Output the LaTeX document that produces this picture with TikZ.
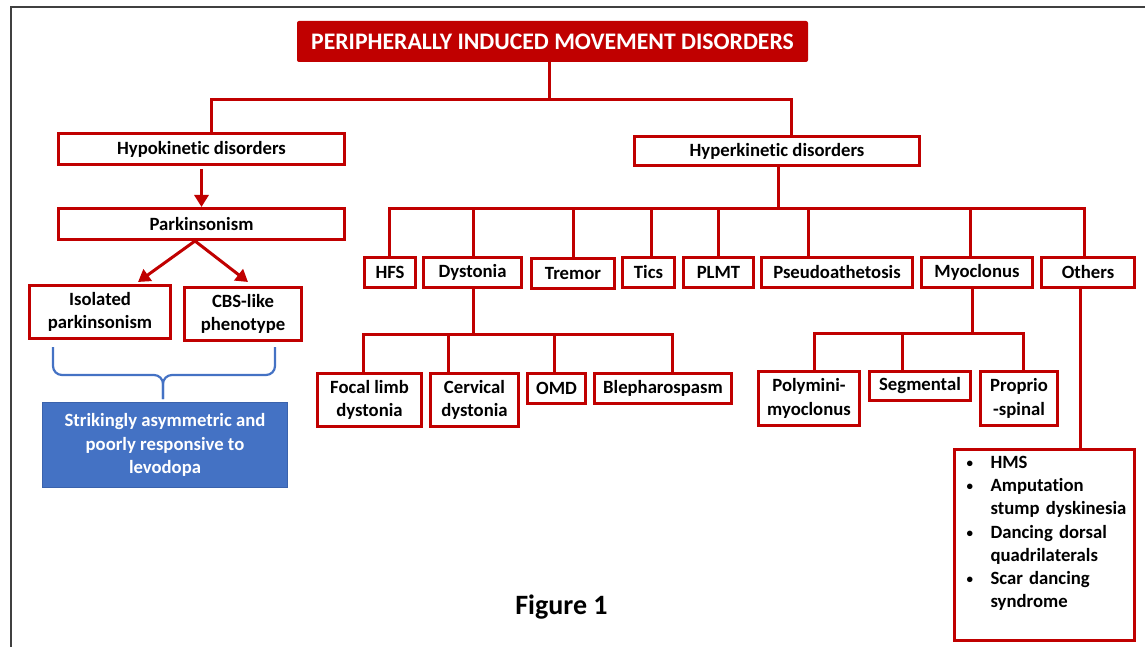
\documentclass[tikz,border=0pt]{standalone}
\usepackage{fontspec}
\setmainfont{Carlito}[Ligatures=NoCommon]
\usetikzlibrary{arrows.meta,calc}
\definecolor{dred}{HTML}{C00000}
\definecolor{mblue}{HTML}{4472C4}
\definecolor{dblue}{HTML}{3A62AC}
\definecolor{framegray}{HTML}{404040}
\tikzset{
  rbox/.style={draw=dred, line width=3pt, fill=white, inner sep=2pt, align=center,
    font=\fontsize{18.7}{23.3}\selectfont\bfseries, text=black},
  conn/.style={draw=dred, line width=3pt, line cap=rect},
  arr/.style={draw=dred, line width=3pt, -{Triangle[length=12pt,width=14pt]}},
  bracestyle/.style={draw=mblue, line width=2.2pt, rounded corners=9pt},
}
\newcommand{\dropline}[3]{%
  \path ([xshift=#2pt]#1.north) coordinate (#1-c);
  \draw[conn] (#1-c) -- (#1-c |- #3);}
\newcommand{\smbullet}{\raisebox{1pt}{\fontsize{13}{13}\selectfont\textbullet}}
\begin{document}
\begin{tikzpicture}[x=1pt,y=-1pt]
\useasboundingbox (0,0) rectangle (1145,647);
\draw[framegray, line width=2pt] (11,647) -- (11,7) -- (1145,7);

% title
\node[fill=dred, text=white, minimum width=511pt, minimum height=41pt, rounded corners=2pt,
  font=\fontsize{23.7}{27}\selectfont\bfseries] (title) at (552.5,41.5) {PERIPHERALLY INDUCED MOVEMENT DISORDERS};

% left branch
\node[rbox, minimum width=286pt, minimum height=31pt] (hypo) at (201.5,149) {Hypokinetic disorders};
\node[rbox, minimum width=286pt, minimum height=31pt] (park) at (201.5,224) {Parkinsonism};
\node[rbox, minimum width=141pt, minimum height=53pt] (iso) at (100,312) {Isolated\\parkinsonism};
\node[rbox, minimum width=117pt, minimum height=53pt] (cbs) at (243,314) {CBS-like\\phenotype};
\node[fill=mblue, draw=dblue, line width=1pt, text=white, minimum width=245pt, minimum height=85pt,
  align=center, font=\fontsize{18.7}{23.3}\selectfont\bfseries] (blue) at (165,445)
  {Strikingly asymmetric and\\poorly responsive to\\levodopa};

% right branch
\node[rbox, minimum width=285pt, minimum height=29pt] (hyper) at (777,151) {Hyperkinetic disorders};

\node[rbox, minimum width=51pt, minimum height=30pt] (hfs) at (390,272.5) {HFS};
\node[rbox, minimum width=98pt, minimum height=30pt] (dys) at (472.5,272.5) {Dystonia};
\node[rbox, minimum width=83pt, minimum height=30pt] (tremor) at (573,273.5) {Tremor};
\node[rbox, minimum width=52pt, minimum height=30pt] (tics) at (648.5,272.5) {Tics};
\node[rbox, minimum width=70pt, minimum height=30pt] (plmt) at (718.5,272.5) {PLMT};
\node[rbox, minimum width=151pt, minimum height=30pt] (pseudo) at (837,272.5) {Pseudoathetosis};
\node[rbox, minimum width=111pt, minimum height=30pt] (myo) at (977,272.5) {Myoclonus};
\node[rbox, minimum width=93pt, minimum height=30pt] (others) at (1088,272.5) {Others};

\node[rbox, minimum width=104pt, minimum height=53pt] (focal) at (369.5,400) {Focal limb\\dystonia};
\node[rbox, minimum width=88pt, minimum height=53pt] (cerv) at (474.5,400) {Cervical\\dystonia};
\node[rbox, minimum width=58pt, minimum height=30pt] (omd) at (556.5,388.5) {OMD};
\node[rbox, minimum width=137pt, minimum height=30pt] (bleph) at (663,388.5) {Blepharospasm};

\node[rbox, minimum width=101pt, minimum height=54pt] (poly) at (809,398.5) {Polymini-\\myoclonus};
\node[rbox, minimum width=101pt, minimum height=29pt] (seg) at (920,386) {Segmental};
\node[rbox, minimum width=77pt, minimum height=54pt] (prop) at (1019,398.5) {Proprio\\-spinal};

\node[rbox, minimum width=180pt, minimum height=191pt, text width=156pt, inner xsep=12pt, align=left]
  (hms) at (1044.5,545)
  {\begin{tabular}{@{}p{24pt}@{}l@{}}
   \smbullet & HMS\\
   \smbullet & Amputation\\
               & stump dyskinesia\\
   \smbullet & Dancing dorsal\\
               & quadrilaterals\\
   \smbullet & Scar dancing\\
               & syndrome\\
               & \\
  \end{tabular}};

\node[font=\fontsize{28}{32}\selectfont\bfseries] (fig) at (561.5,607) {Figure 1};

% connectors: top level
\coordinate (tb) at (549,100);
\path ([xshift=-3.5pt]title.south) coordinate (title-c);
\path ([xshift=9.5pt]hypo.north) coordinate (hypo-c);
\path ([xshift=14pt]hyper.north) coordinate (hyper-c);
\draw[conn] (title-c) -- (title-c |- tb);
\draw[conn] (hypo-c) |- (tb) -| (hyper-c);

% left arrows
\draw[arr, shorten <=3pt] (hypo.south) -- (park.north);
\draw[arr] ([xshift=-6.5pt]park.south) -- ([xshift=38pt,yshift=2pt]iso.north);
\draw[arr] ([xshift=-6.5pt]park.south) -- ([xshift=5pt,yshift=4pt]cbs.north);

% brace
\draw[bracestyle] (53,347) -- (53,375) -- (163,375) -- (163,399);
\draw[bracestyle] (275,347) -- (275,375) -- (163,375) -- (163,399);

% hyperkinetic bus
\coordinate (hb) at (778,208);
\path ([xshift=1pt]hyper.south) coordinate (hyper-s);
\draw[conn] (hyper-s) -- (hyper-s |- hb);
\dropline{hfs}{-1}{hb}
\dropline{dys}{0.5}{hb}
\dropline{tremor}{0}{hb}
\dropline{tics}{2.5}{hb}
\dropline{plmt}{-0.5}{hb}
\dropline{pseudo}{-29}{hb}
\dropline{myo}{-7}{hb}
\dropline{others}{-4}{hb}
\draw[conn] (hfs-c |- hb) -- (others-c |- hb);

% dystonia bus
\coordinate (db) at (473,334);
\path ([xshift=0.5pt]dys.south) coordinate (dys-s);
\draw[conn] (dys-s) -- (dys-s |- db);
\dropline{focal}{-6.5}{db}
\dropline{cerv}{-26.5}{db}
\dropline{omd}{-2.5}{db}
\dropline{bleph}{9}{db}
\draw[conn] (focal-c |- db) -- (bleph-c |- db);

% myoclonus bus
\coordinate (mb) at (972,333);
\path ([xshift=-5pt]myo.south) coordinate (myo-s);
\draw[conn] (myo-s) -- (myo-s |- mb);
\dropline{poly}{5}{mb}
\dropline{seg}{-18}{mb}
\dropline{prop}{4}{mb}
\draw[conn] (poly-c |- mb) -- (prop-c |- mb);

% others down
\path ([xshift=-8pt]others.south) coordinate (oth-s);
\path ([xshift=35.5pt]hms.north) coordinate (hms-c);
\draw[conn] (oth-s) -- (hms-c);
\end{tikzpicture}
\end{document}
